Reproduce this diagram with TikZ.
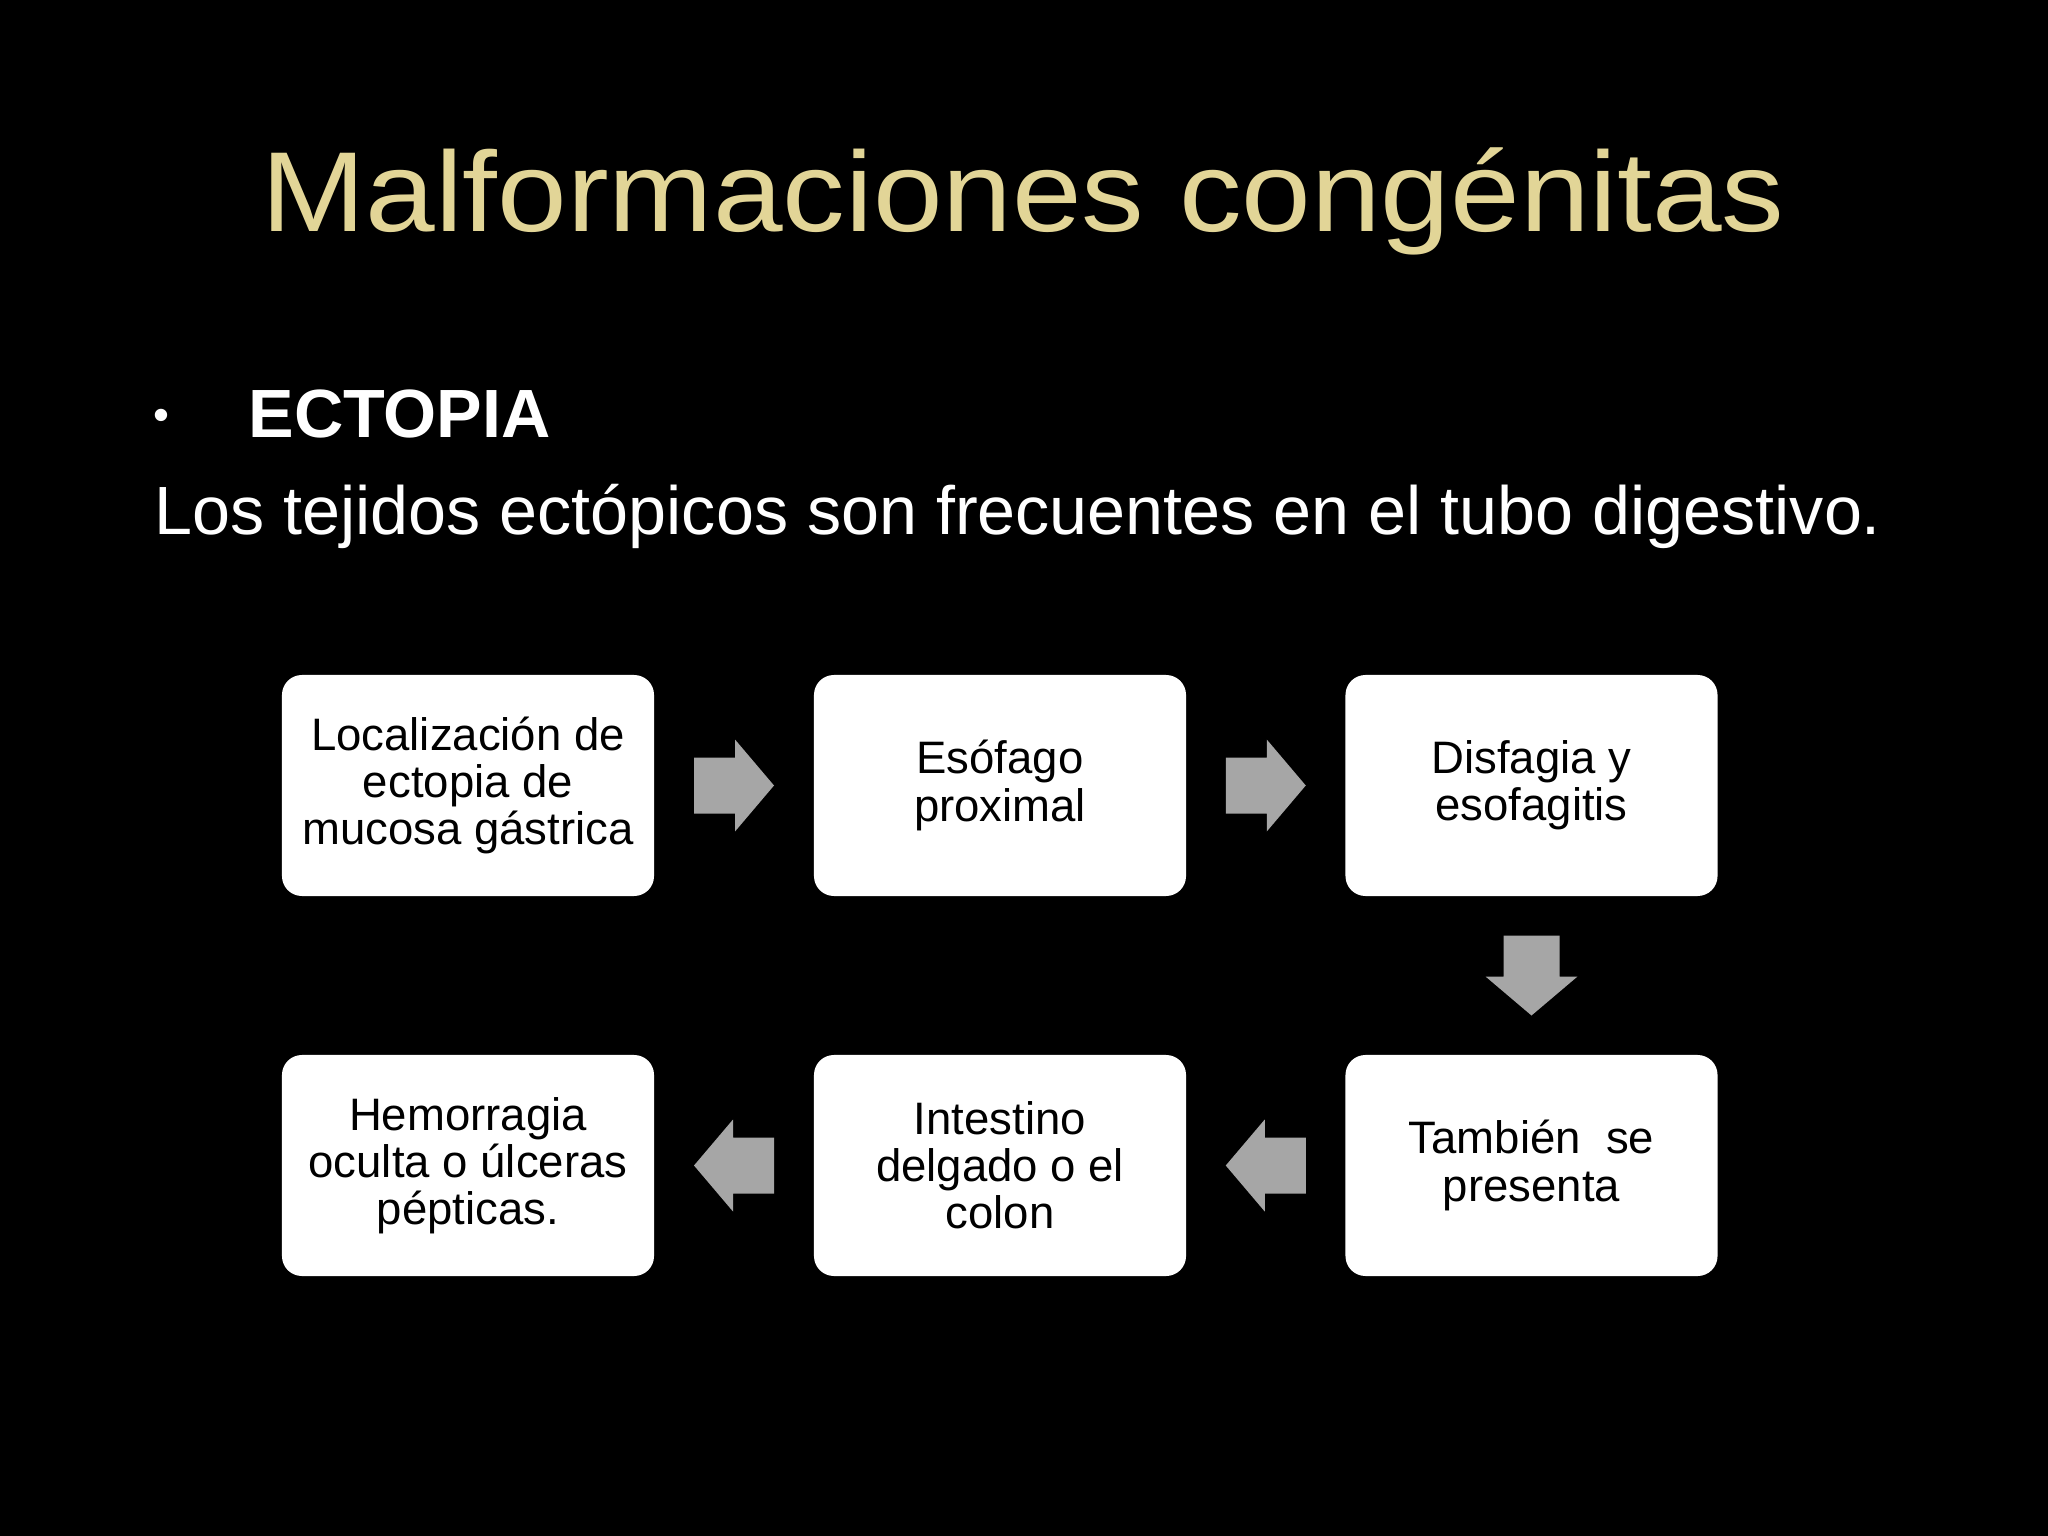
\documentclass[tikz,border=0pt]{standalone}
\usepackage{fontspec}
\setmainfont{Liberation Sans}
\usetikzlibrary{calc}
\definecolor{arrowgray}{HTML}{A6A6A6}
\definecolor{titlegold}{HTML}{E2D597}
\begin{document}
\begin{tikzpicture}[x=0.3515625pt,y=-0.3515625pt,
  box/.style={fill=white, rounded corners=7pt, minimum width=130.8pt, minimum height=77.7pt,
    align=center, text=black, font=\fontsize{16}{16.6}\selectfont, inner sep=0pt},
  blockarrow/.pic={\fill[arrowgray] (-40,-28)--(1,-28)--(1,-46)--(40,0)--(1,46)--(1,28)--(-40,28)--cycle;},
  titletext/.style={text=titlegold, font=\fontsize{40}{48}\selectfont, inner sep=0pt, anchor=base, xscale=1.10},
  bodytext/.style={text=white, font=\fontsize{24}{28}\selectfont, inner sep=0pt, anchor=base west}
]
\fill[black] (0,0) rectangle (2048,1536);
\useasboundingbox (0,0) rectangle (2048,1536);

\node[titletext] (title) at (1023,232) {Malformaciones congénitas};
\node[text=white, font=\fontsize{16}{18}\selectfont, inner sep=0pt] (bullet) at (161,420) {•};
\node[bodytext, font=\fontsize{24}{28}\selectfont\bfseries] (ectopia) at (248,438) {ECTOPIA};
\node[bodytext] (intro) at (154,535) {Los tejidos ectópicos son frecuentes en el tubo digestivo.};

\node[box] (b1) at (468,785.5) {Localización de\\ectopia de\\mucosa gástrica};
\node[box] (b2) at (1000,785.5) {Esófago\\proximal};
\node[box] (b3) at (1531.5,785.5) {Disfagia y\\esofagitis};
\node[box] (b4) at (1531.5,1165.5) {También~ se\\presenta};
\node[box] (b5) at (1000,1165.5) {Intestino\\delgado o el\\colon};
\node[box] (b6) at (468,1165.5) {Hemorragia\\oculta o úlceras\\pépticas.};

\path ($(b1.east)!0.5!(b2.west)$) pic {blockarrow};
\path ($(b2.east)!0.5!(b3.west)$) pic {blockarrow};
\path ($(b3.south)!0.5!(b4.north)$) pic[rotate=-90] {blockarrow};
\path ($(b4.west)!0.5!(b5.east)$) pic[rotate=180] {blockarrow};
\path ($(b5.west)!0.5!(b6.east)$) pic[rotate=180] {blockarrow};
\end{tikzpicture}
\end{document}
